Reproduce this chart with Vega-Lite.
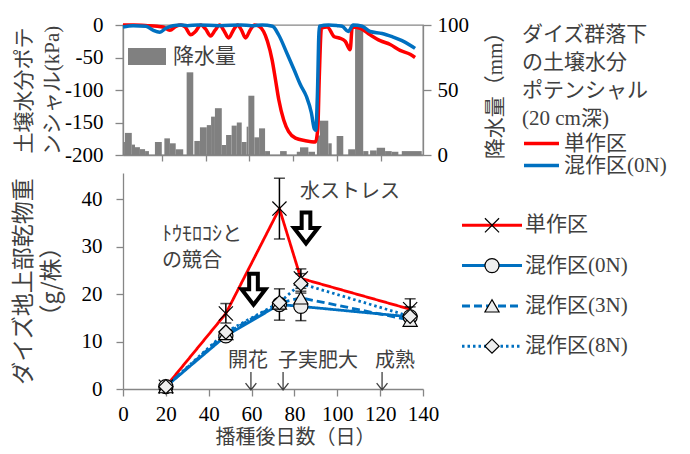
{
  "$schema": "https://vega.github.io/schema/vega-lite/v6.json",
  "padding": {"left": 12, "top": 13, "right": 0, "bottom": 0},
  "bounds": "flush",
  "spacing": 18,
  "background": "white",
  "config": {
    "view": {"stroke": null},
    "axis": {"grid": false, "domainColor": "#868686", "tickColor": "#868686", "domainWidth": 1.3, "tickWidth": 1.3, "tickSize": 8, "labelFont": "Liberation Serif", "labelFontSize": 21, "labelColor": "#000000", "labelOverlap": false, "labelFlush": false, "titleFont": "Liberation Serif, Noto Sans CJK JP", "titleFontSize": 21, "titleFontWeight": "normal", "titleColor": "#404040", "titleLineHeight": 28},
    "legend": {"padding": 0, "labelFont": "Liberation Serif, Noto Sans CJK JP", "labelFontSize": 21, "labelColor": "#404040", "titleFont": "Liberation Serif, Noto Sans CJK JP", "titleFontSize": 21, "titleFontWeight": "normal", "titleColor": "#404040"}
  },
  "resolve": {
    "scale": {"color": "independent", "strokeDash": "independent", "shape": "independent", "fill": "independent"},
    "legend": {"color": "independent", "strokeDash": "independent", "shape": "independent", "fill": "independent"}
  },
  "datasets": {
    "rain": [
      {"d0": 0, "d1": 0.9, "mm": 10}, {"d0": 0.9, "d1": 4.1, "mm": 17}, {"d0": 4.1, "d1": 5.6, "mm": 8},
      {"d0": 5.6, "d1": 7.9, "mm": 6}, {"d0": 7.9, "d1": 10.3, "mm": 4.5}, {"d0": 10.3, "d1": 12.1, "mm": 3},
      {"d0": 14.9, "d1": 18.1, "mm": 10}, {"d0": 19.3, "d1": 21.9, "mm": 12.8}, {"d0": 21.9, "d1": 24.6, "mm": 9},
      {"d0": 24.6, "d1": 28.1, "mm": 4.4}, {"d0": 29.7, "d1": 32.8, "mm": 63.6}, {"d0": 33.3, "d1": 35.9, "mm": 10.8},
      {"d0": 35.9, "d1": 39.1, "mm": 21.3}, {"d0": 39.1, "d1": 41.1, "mm": 23}, {"d0": 41.1, "d1": 42.9, "mm": 29.5},
      {"d0": 42.9, "d1": 46.1, "mm": 36}, {"d0": 46.1, "d1": 48.1, "mm": 7.7}, {"d0": 48.1, "d1": 50.7, "mm": 15.4},
      {"d0": 50.7, "d1": 53.1, "mm": 22.6}, {"d0": 53.1, "d1": 55.4, "mm": 25}, {"d0": 55.4, "d1": 57.7, "mm": 10},
      {"d0": 57.7, "d1": 58.5, "mm": 21.8}, {"d0": 58.5, "d1": 61.3, "mm": 45.6}, {"d0": 61.3, "d1": 63.5, "mm": 13.6},
      {"d0": 63.5, "d1": 66.3, "mm": 20.5}, {"d0": 66.3, "d1": 68.6, "mm": 3}, {"d0": 73.3, "d1": 76.4, "mm": 3},
      {"d0": 81.1, "d1": 82.6, "mm": 2.5}, {"d0": 82.6, "d1": 86.5, "mm": 5.9}, {"d0": 86.5, "d1": 89.6, "mm": 2.5},
      {"d0": 90.5, "d1": 91.9, "mm": 15}, {"d0": 91.9, "d1": 95.8, "mm": 26.4}, {"d0": 95.8, "d1": 97.4, "mm": 9},
      {"d0": 99.7, "d1": 102.8, "mm": 14.6}, {"d0": 105.1, "d1": 108.3, "mm": 4.4}, {"d0": 108.3, "d1": 112.1, "mm": 97},
      {"d0": 112.1, "d1": 114.5, "mm": 3}, {"d0": 115.3, "d1": 118.4, "mm": 3.5}, {"d0": 118.4, "d1": 122.3, "mm": 5.6},
      {"d0": 122.3, "d1": 125.4, "mm": 3}, {"d0": 125.4, "d1": 128.5, "mm": 2.5}, {"d0": 130.1, "d1": 139.4, "mm": 3}
    ],
    "swp": [
      {"plot": "単作区", "day": 0, "kPa": 0}, {"plot": "単作区", "day": 5, "kPa": 0}, {"plot": "単作区", "day": 11.6, "kPa": -1},
      {"plot": "単作区", "day": 16, "kPa": -2}, {"plot": "単作区", "day": 18.6, "kPa": -3}, {"plot": "単作区", "day": 21.9, "kPa": -8},
      {"plot": "単作区", "day": 24.7, "kPa": -2}, {"plot": "単作区", "day": 27, "kPa": 0}, {"plot": "単作区", "day": 29, "kPa": -3},
      {"plot": "単作区", "day": 31.6, "kPa": -15}, {"plot": "単作区", "day": 33.8, "kPa": -10}, {"plot": "単作区", "day": 36.3, "kPa": 0},
      {"plot": "単作区", "day": 38.5, "kPa": -6}, {"plot": "単作区", "day": 40.9, "kPa": -17}, {"plot": "単作区", "day": 43, "kPa": -8},
      {"plot": "単作区", "day": 45.1, "kPa": 0}, {"plot": "単作区", "day": 47, "kPa": -8}, {"plot": "単作区", "day": 49.3, "kPa": -20},
      {"plot": "単作区", "day": 51.5, "kPa": -8}, {"plot": "単作区", "day": 53.5, "kPa": 0}, {"plot": "単作区", "day": 55.3, "kPa": -8},
      {"plot": "単作区", "day": 57.2, "kPa": -20}, {"plot": "単作区", "day": 59.3, "kPa": -8}, {"plot": "単作区", "day": 61.4, "kPa": 0},
      {"plot": "単作区", "day": 63.5, "kPa": -2}, {"plot": "単作区", "day": 65.6, "kPa": -10}, {"plot": "単作区", "day": 67.4, "kPa": -25},
      {"plot": "単作区", "day": 69.6, "kPa": -54}, {"plot": "単作区", "day": 71.2, "kPa": -85}, {"plot": "単作区", "day": 72.7, "kPa": -115},
      {"plot": "単作区", "day": 75, "kPa": -146}, {"plot": "単作区", "day": 77.3, "kPa": -164}, {"plot": "単作区", "day": 80.5, "kPa": -174},
      {"plot": "単作区", "day": 85.1, "kPa": -178}, {"plot": "単作区", "day": 89.8, "kPa": -180}, {"plot": "単作区", "day": 90.9, "kPa": -160},
      {"plot": "単作区", "day": 91.6, "kPa": -80}, {"plot": "単作区", "day": 92.6, "kPa": -5}, {"plot": "単作区", "day": 95.3, "kPa": -3},
      {"plot": "単作区", "day": 98.6, "kPa": -18}, {"plot": "単作区", "day": 100.9, "kPa": -20}, {"plot": "単作区", "day": 103.7, "kPa": -25},
      {"plot": "単作区", "day": 106, "kPa": -38}, {"plot": "単作区", "day": 107, "kPa": -3}, {"plot": "単作区", "day": 110.7, "kPa": -5},
      {"plot": "単作区", "day": 115.3, "kPa": -15}, {"plot": "単作区", "day": 120, "kPa": -24}, {"plot": "単作区", "day": 124.7, "kPa": -30},
      {"plot": "単作区", "day": 129.3, "kPa": -39}, {"plot": "単作区", "day": 134, "kPa": -45}, {"plot": "単作区", "day": 136.3, "kPa": -50},
      {"plot": "混作区(0N)", "day": 0, "kPa": -3}, {"plot": "混作区(0N)", "day": 4.7, "kPa": -1}, {"plot": "混作区(0N)", "day": 10.7, "kPa": -2},
      {"plot": "混作区(0N)", "day": 14, "kPa": -8}, {"plot": "混作区(0N)", "day": 17.2, "kPa": -11}, {"plot": "混作区(0N)", "day": 20, "kPa": -5},
      {"plot": "混作区(0N)", "day": 23.3, "kPa": -1}, {"plot": "混作区(0N)", "day": 27, "kPa": 0}, {"plot": "混作区(0N)", "day": 30, "kPa": -1},
      {"plot": "混作区(0N)", "day": 35, "kPa": 0}, {"plot": "混作区(0N)", "day": 45, "kPa": -1}, {"plot": "混作区(0N)", "day": 55, "kPa": 0},
      {"plot": "混作区(0N)", "day": 60, "kPa": -1}, {"plot": "混作区(0N)", "day": 65, "kPa": 0}, {"plot": "混作区(0N)", "day": 69.8, "kPa": -2},
      {"plot": "混作区(0N)", "day": 72.6, "kPa": -15}, {"plot": "混作区(0N)", "day": 76.7, "kPa": -45}, {"plot": "混作区(0N)", "day": 80, "kPa": -70},
      {"plot": "混作区(0N)", "day": 82.8, "kPa": -92}, {"plot": "混作区(0N)", "day": 85.6, "kPa": -110}, {"plot": "混作区(0N)", "day": 87.9, "kPa": -135},
      {"plot": "混作区(0N)", "day": 89.3, "kPa": -160}, {"plot": "混作区(0N)", "day": 90, "kPa": -162}, {"plot": "混作区(0N)", "day": 90.7, "kPa": -110},
      {"plot": "混作区(0N)", "day": 91.6, "kPa": -2}, {"plot": "混作区(0N)", "day": 96, "kPa": 0}, {"plot": "混作区(0N)", "day": 100, "kPa": -1},
      {"plot": "混作区(0N)", "day": 102.3, "kPa": -2}, {"plot": "混作区(0N)", "day": 105.1, "kPa": -10}, {"plot": "混作区(0N)", "day": 107.4, "kPa": 0},
      {"plot": "混作区(0N)", "day": 111.6, "kPa": -2}, {"plot": "混作区(0N)", "day": 115.3, "kPa": -10}, {"plot": "混作区(0N)", "day": 120.9, "kPa": -13},
      {"plot": "混作区(0N)", "day": 125.6, "kPa": -18}, {"plot": "混作区(0N)", "day": 130.2, "kPa": -24}, {"plot": "混作区(0N)", "day": 134, "kPa": -31},
      {"plot": "混作区(0N)", "day": 136.3, "kPa": -36}
    ],
    "bio": [
      {"series": "単作区", "day": 20, "w": 0.5}, {"series": "単作区", "day": 48, "w": 15.9}, {"series": "単作区", "day": 73, "w": 38.0},
      {"series": "単作区", "day": 83, "w": 23.3}, {"series": "単作区", "day": 134, "w": 16.8},
      {"series": "混作区(0N)", "day": 20, "w": 0.5}, {"series": "混作区(0N)", "day": 48, "w": 11.2}, {"series": "混作区(0N)", "day": 73, "w": 17.8},
      {"series": "混作区(0N)", "day": 83, "w": 17.4}, {"series": "混作区(0N)", "day": 134, "w": 15.2},
      {"series": "混作区(3N)", "day": 20, "w": 0.5}, {"series": "混作区(3N)", "day": 48, "w": 11.7}, {"series": "混作区(3N)", "day": 73, "w": 18.1},
      {"series": "混作区(3N)", "day": 83, "w": 19.2}, {"series": "混作区(3N)", "day": 134, "w": 14.5},
      {"series": "混作区(8N)", "day": 20, "w": 0.5}, {"series": "混作区(8N)", "day": 48, "w": 12.0}, {"series": "混作区(8N)", "day": 73, "w": 18.2},
      {"series": "混作区(8N)", "day": 83, "w": 22.2}, {"series": "混作区(8N)", "day": 134, "w": 15.3}
    ],
    "err": [
      {"series": "単作区", "day": 48, "lo": 13.9, "hi": 18.0}, {"series": "単作区", "day": 73, "lo": 31.6, "hi": 44.4},
      {"series": "単作区", "day": 83, "lo": 21.2, "hi": 25.3}, {"series": "単作区", "day": 134, "lo": 14.6, "hi": 19.0},
      {"series": "混作区(0N)", "day": 73, "lo": 14.5, "hi": 21.1}, {"series": "混作区(0N)", "day": 83, "lo": 14.4, "hi": 20.6},
      {"series": "混作区(0N)", "day": 134, "lo": 13.3, "hi": 17.3}, {"series": "混作区(8N)", "day": 83, "lo": 20.2, "hi": 24.3}
    ],
    "notes": [
      {"label": "水ストレス", "day": 82.6, "w": 41.5},
      {"label": "ﾄｳﾓﾛｺｼと", "day": 18.2, "w": 32.5},
      {"label": "の競合", "day": 18.2, "w": 26.9},
      {"label": "開花", "day": 49, "w": 6.0},
      {"label": "子実肥大", "day": 72.3, "w": 6.0},
      {"label": "成熟", "day": 117.6, "w": 6.0}
    ],
    "stress": [{"day": 60.9, "w": 21.0}, {"day": 85.4, "w": 33.9}],
    "stages": [{"stage": "開花", "day": 59.7, "w": 1.7}, {"stage": "子実肥大", "day": 74.7, "w": 1.7}, {"stage": "成熟", "day": 120.9, "w": 1.7}]
  },
  "vconcat": [
    {
      "width": 300,
      "height": 130,
      "view": {"stroke": "#868686", "strokeWidth": 1.3},
      "layer": [
        {
          "data": {"name": "rain"},
          "mark": {"type": "rect"},
          "encoding": {
            "x": {"field": "d0", "type": "quantitative", "scale": {"domain": [0, 140]},
                  "axis": {"title": null, "values": [18.1, 38.6, 58.9, 79.3, 100, 120.3], "labels": false, "tickSize": 6}},
            "x2": {"field": "d1"},
            "y": {"field": "mm", "type": "quantitative", "scale": {"domain": [0, 100]},
                  "axis": {"orient": "right", "values": [0, 50, 100], "title": "降水量（mm）", "titleAngle": -90, "titleBaseline": "top", "titlePadding": 16, "labelPadding": 6}},
            "y2": {"datum": 0},
            "fill": {"datum": "降水量", "type": "nominal", "scale": {"range": ["#808080"]},
                     "legend": {"title": null, "orient": "none", "legendX": 5, "legendY": 12.5, "symbolType": "M-1,-0.45H1V0.45H-1Z", "symbolSize": 1444, "symbolStrokeWidth": 0, "labelOffset": 7, "labelFont": "Noto Sans CJK JP", "labelFontSize": 21}}
          }
        },
        {
          "data": {"name": "swp"},
          "mark": {"type": "line", "strokeWidth": 3.5, "interpolate": "monotone"},
          "encoding": {
            "x": {"field": "day", "type": "quantitative", "scale": {"domain": [0, 140]},
                  "axis": {"title": null, "values": [18.1, 38.6, 58.9, 79.3, 100, 120.3], "labels": false, "tickSize": 6}},
            "y": {"field": "kPa", "type": "quantitative", "scale": {"domain": [-200, 0]},
                  "axis": {"orient": "left", "values": [0, -50, -100, -150, -200], "title": ["土壌水分ポテ", "ンシャル(kPa)"], "titlePadding": 2, "labelPadding": 12, "labelExpr": "replace(datum.label, '\u2212', '-')"}},
            "color": {"field": "plot", "type": "nominal", "scale": {"range": ["#ff0000", "#0070c0"]},
                      "legend": {"title": ["ダイズ群落下", "の土壌水分", "ポテンシャル", "(20 cm深)"], "titleLineHeight": 28, "titlePadding": 4, "orient": "none", "legendX": 399, "legendY": -1, "symbolType": "M-2,0H2", "symbolSize": 306, "symbolStrokeWidth": 3.5, "symbolOffset": 9, "labelOffset": 12, "rowPadding": 0}}
          }
        }
      ],
      "resolve": {"scale": {"y": "independent"}}
    },
    {
      "width": 300,
      "height": 216,
      "encoding": {
        "x": {"field": "day", "type": "quantitative", "scale": {"domain": [0, 140]},
              "axis": {"values": [0, 20, 40, 60, 80, 100, 120, 140], "title": "播種後日数（日）", "titleFont": "Noto Sans CJK JP", "titleFontSize": 20, "tickSize": 7, "labelPadding": 7, "titlePadding": 3, "titleX": 172}},
        "y": {"field": "w", "type": "quantitative", "scale": {"domain": [0, 45.5]},
              "axis": {"values": [0, 10, 20, 30, 40], "title": ["ダイズ地上部乾物重", "（g/株）"], "titleFont": "Noto Sans CJK JP", "titleFontSize": 23, "tickSize": 7, "labelPadding": 14, "titlePadding": 18}}
      },
      "layer": [
        {
          "data": {"name": "bio"},
          "mark": {"type": "line", "strokeWidth": 2.8},
          "encoding": {
            "color": {"field": "series", "type": "nominal", "scale": {"range": ["#ff0000", "#0070c0", "#0070c0", "#0070c0"]},
                      "legend": {"title": null, "orient": "none", "legendX": 358.5, "legendY": 41.8, "symbolType": "M-4,0H4", "symbolSize": 225, "symbolStrokeWidth": 3, "labelOffset": 22.5, "rowPadding": 18.3}},
            "strokeDash": {"field": "series", "type": "nominal", "scale": {"range": [[1, 0], [1, 0], [8, 4], [2.5, 3]]},
                           "legend": {"title": null, "orient": "none", "legendX": 358.5, "legendY": 41.8, "symbolType": "M-4,0H4", "symbolSize": 225, "symbolStrokeWidth": 3, "labelOffset": 22.5, "rowPadding": 18.3}}
          }
        },
        {
          "data": {"name": "err"},
          "mark": {"type": "errorbar", "ticks": {"size": 11, "thickness": 1.5, "color": "black"}, "rule": {"color": "black", "strokeWidth": 1.5}},
          "encoding": {
            "y": {"field": "lo", "type": "quantitative", "scale": {"domain": [0, 45.5]},
                  "axis": {"values": [0, 10, 20, 30, 40], "title": ["ダイズ地上部乾物重", "（g/株）"], "titleFont": "Noto Sans CJK JP", "titleFontSize": 23, "tickSize": 7, "labelPadding": 14, "titlePadding": 18}},
            "y2": {"field": "hi"}
          }
        },
        {
          "data": {"name": "bio"},
          "mark": {"type": "point", "filled": true, "fill": "#eeeeee", "stroke": "black", "strokeWidth": 1.2, "size": 200, "opacity": 1},
          "encoding": {
            "shape": {"field": "series", "type": "nominal",
                      "scale": {"domain": ["単作区", "混作区(0N)", "混作区(3N)", "混作区(8N)"], "range": ["M-1,-1L1,1M-1,1L1,-1", "circle", "triangle-up", "diamond"]},
                      "legend": {"title": null, "orient": "none", "legendX": 358.5, "legendY": 41.8, "symbolSize": 200, "symbolStrokeWidth": 1.2, "labelFontSize": 21, "labelExpr": "''", "rowPadding": 18.3,
                                 "encode": {"symbols": {"update": {"fill": {"value": "#eeeeee"}, "stroke": {"value": "#000000"}, "strokeWidth": {"value": 1.2}, "opacity": {"value": 1}}}}}}
          }
        },
        {
          "data": {"name": "stress"},
          "mark": {"type": "point", "shape": "M-0.28,-1H0.28V0H0.77L0,1L-0.77,0H-0.28Z", "size": 961, "filled": true, "fill": "white", "stroke": "black", "strokeWidth": 4, "opacity": 1}
        },
        {
          "data": {"name": "stages"},
          "mark": {"type": "point", "shape": "M0,-1V1M-0.6,0.25L0,1L0.6,0.25", "size": 324, "filled": false, "stroke": "#404040", "strokeWidth": 1.3, "opacity": 1}
        },
        {
          "data": {"name": "notes"},
          "mark": {"type": "text", "align": "left", "baseline": "middle", "font": "Noto Sans CJK JP", "fontSize": 20, "color": "#404040"},
          "encoding": {"text": {"field": "label"}}
        }
      ]
    }
  ]
}
